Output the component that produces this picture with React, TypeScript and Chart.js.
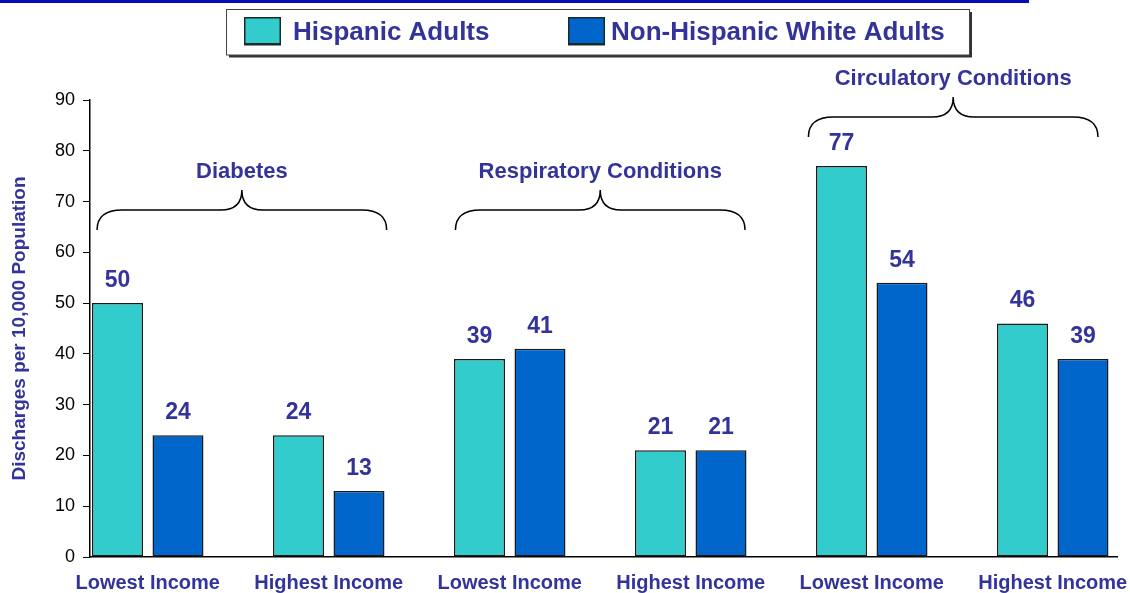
import React, { useEffect, useRef } from "react";
import { Chart, registerables } from "chart.js";

Chart.register(...registerables);

// ---- data ----
const categories = [
  "Lowest Income",
  "Highest Income",
  "Lowest Income",
  "Highest Income",
  "Lowest Income",
  "Highest Income",
];
const categoryPositions = [0, 1, 2, 3, 4, 5];
const seriesNames = ["Hispanic Adults", "Non-Hispanic White Adults"];
const hispanicAdults = [50, 24, 39, 21, 77, 46];
const nonHispanicWhiteAdults = [24, 13, 41, 21, 54, 39];
const yTicks = [0, 10, 20, 30, 40, 50, 60, 70, 80, 90];
const yAxisTitle = "Discharges per 10,000 Population";
const groupLabels = ["Diabetes", "Respiratory Conditions", "Circulatory Conditions"];
const groupBraceCenters = [0.52, 2.5, 4.45];
const groupBraceBaseValues = [64.4, 64.4, 82.7];

// ---- styles ----
const FONT = "'Liberation Sans', Arial, Helvetica, sans-serif";
const TEAL = "#33CCCC";
const BLUE = "#0066CC";
const TEXT = "#333399";
const BAR_BORDER = "#1a1a1a";

const decorPlugin = {
  id: "decor",
  afterDraw(chart: any) {
    const { ctx } = chart;
    const x = chart.scales.x;
    const y = chart.scales.y;
    ctx.save();

    // top rule
    ctx.fillStyle = "#0A0AB4";
    ctx.fillRect(0, 0, 1029, 3);

    // value labels
    ctx.font = `bold 23px ${FONT}`;
    ctx.fillStyle = TEXT;
    ctx.textAlign = "center";
    ctx.textBaseline = "alphabetic";
    chart.data.datasets.forEach((ds: any, di: number) => {
      const meta = chart.getDatasetMeta(di);
      meta.data.forEach((el: any, i: number) => {
        const v = ds.data[i].y;
        ctx.fillText(String(v), el.x, el.y - 16);
      });
    });

    // braces
    const half = 0.8;
    ctx.strokeStyle = "#000";
    ctx.lineWidth = 1.5;
    groupLabels.forEach((label, gi) => {
      const c = groupBraceCenters[gi];
      const xc = x.getPixelForValue(c);
      const xl = x.getPixelForValue(c - half);
      const xr = x.getPixelForValue(c + half);
      const yEnd = y.getPixelForValue(groupBraceBaseValues[gi]);
      const yH = yEnd - 20;
      const yPeak = yEnd - 40;
      const r = 25;
      const rc = 21;
      ctx.beginPath();
      ctx.moveTo(xl, yEnd);
      ctx.quadraticCurveTo(xl, yH, xl + r, yH);
      ctx.lineTo(xc - rc, yH);
      ctx.quadraticCurveTo(xc, yH, xc, yPeak);
      ctx.quadraticCurveTo(xc, yH, xc + rc, yH);
      ctx.lineTo(xr - r, yH);
      ctx.quadraticCurveTo(xr, yH, xr, yEnd);
      ctx.stroke();
      ctx.font = `bold 22px ${FONT}`;
      ctx.fillStyle = TEXT;
      ctx.textAlign = "center";
      ctx.textBaseline = "middle";
      ctx.fillText(label, xc, yPeak - 18);
    });

    // legend box
    ctx.fillStyle = "#333";
    ctx.fillRect(229, 55, 743, 2.5);
    ctx.fillRect(969.5, 12, 2.5, 45);
    ctx.fillStyle = "#fff";
    ctx.fillRect(226, 9, 744, 46);
    ctx.strokeStyle = "#444";
    ctx.lineWidth = 1;
    ctx.strokeRect(226.5, 9.5, 743, 45.5);

    const swatches = [
      { color: TEAL, x: 244, tx: 293 },
      { color: BLUE, x: 568, tx: 611 },
    ];
    swatches.forEach((s, i) => {
      ctx.fillStyle = s.color;
      ctx.fillRect(s.x, 17, 37, 28);
      ctx.strokeStyle = "#1a2a2a";
      ctx.lineWidth = 1.5;
      ctx.strokeRect(s.x + 0.75, 17.75, 35.5, 26.5);
      ctx.fillStyle = "#1a2a2a";
      ctx.fillRect(s.x, 43, 37, 2.5);
      ctx.font = `bold 26px ${FONT}`;
      ctx.fillStyle = TEXT;
      ctx.textAlign = "left";
      ctx.textBaseline = "middle";
      ctx.fillText(seriesNames[i], s.tx, 33);
    });

    ctx.restore();
  },
};

export default function App() {
  const canvasRef = useRef<HTMLCanvasElement | null>(null);

  useEffect(() => {
    if (!canvasRef.current) return;
    const chart = new Chart(canvasRef.current, {
      type: "bar",
      data: {
        datasets: [
          {
            label: seriesNames[0],
            data: categoryPositions.map((p, i) => ({ x: p, y: hispanicAdults[i] })),
            backgroundColor: TEAL,
            borderColor: BAR_BORDER,
            borderWidth: 1.5,
            borderSkipped: false,
            categoryPercentage: 0.6685,
            barPercentage: 0.843,
          },
          {
            label: seriesNames[1],
            data: categoryPositions.map((p, i) => ({ x: p, y: nonHispanicWhiteAdults[i] })),
            backgroundColor: BLUE,
            borderColor: BAR_BORDER,
            borderWidth: 1.5,
            borderSkipped: false,
            categoryPercentage: 0.6685,
            barPercentage: 0.843,
          },
        ] as any,
      },
      options: {
        responsive: false,
        animation: false,
        devicePixelRatio: 1,
        layout: { padding: { top: 100, right: 13, left: 0, bottom: 0 } },
        plugins: {
          legend: { display: false },
          tooltip: { enabled: false },
          title: { display: false },
        },
        scales: {
          x: {
            type: "linear",
            offset: false,
            min: -0.319,
            max: 5.355,
            afterBuildTicks: (s: any) => {
              s.ticks = categoryPositions.map((v) => ({ value: v }));
            },
            afterFit: (s: any) => {
              s.height = 36;
              s.paddingLeft = 0;
              s.paddingRight = 0;
            },
            ticks: {
              autoSkip: false,
              maxRotation: 0,
              minRotation: 0,
              color: TEXT,
              font: { family: FONT, size: 20, weight: "bold" },
              padding: 14,
              callback: (v: any) => categories[Math.round(Number(v))] ?? "",
            },
            grid: { display: true, drawOnChartArea: false, drawTicks: false },
            border: { display: true, color: "#000", width: 1.5 },
          },
          y: {
            min: 0,
            max: 90,
            afterBuildTicks: (s: any) => {
              s.ticks = yTicks.map((v) => ({ value: v }));
            },
            afterFit: (s: any) => {
              s.width = 90;
            },
            ticks: {
              color: "#000",
              font: { family: FONT, size: 18 },
              padding: 8,
            },
            grid: {
              display: true,
              drawOnChartArea: false,
              drawTicks: true,
              tickLength: 7,
              color: "#000",
              lineWidth: 1,
            },
            border: { display: true, color: "#000", width: 1.5 },
            title: {
              display: true,
              text: yAxisTitle,
              color: TEXT,
              font: { family: FONT, size: 19, weight: "bold" },
              padding: { top: 8, bottom: 0 },
            },
          },
        },
      } as any,
      plugins: [decorPlugin],
    });
    return () => chart.destroy();
  }, []);

  return (
    <div
      style={{
        position: "fixed",
        left: 0,
        top: 0,
        width: 1130,
        height: 593,
        background: "#fff",
        overflow: "hidden",
      }}
    >
      <canvas
        ref={canvasRef}
        width={1130}
        height={593}
        style={{ display: "block", width: 1130, height: 593 }}
      />
    </div>
  );
}
